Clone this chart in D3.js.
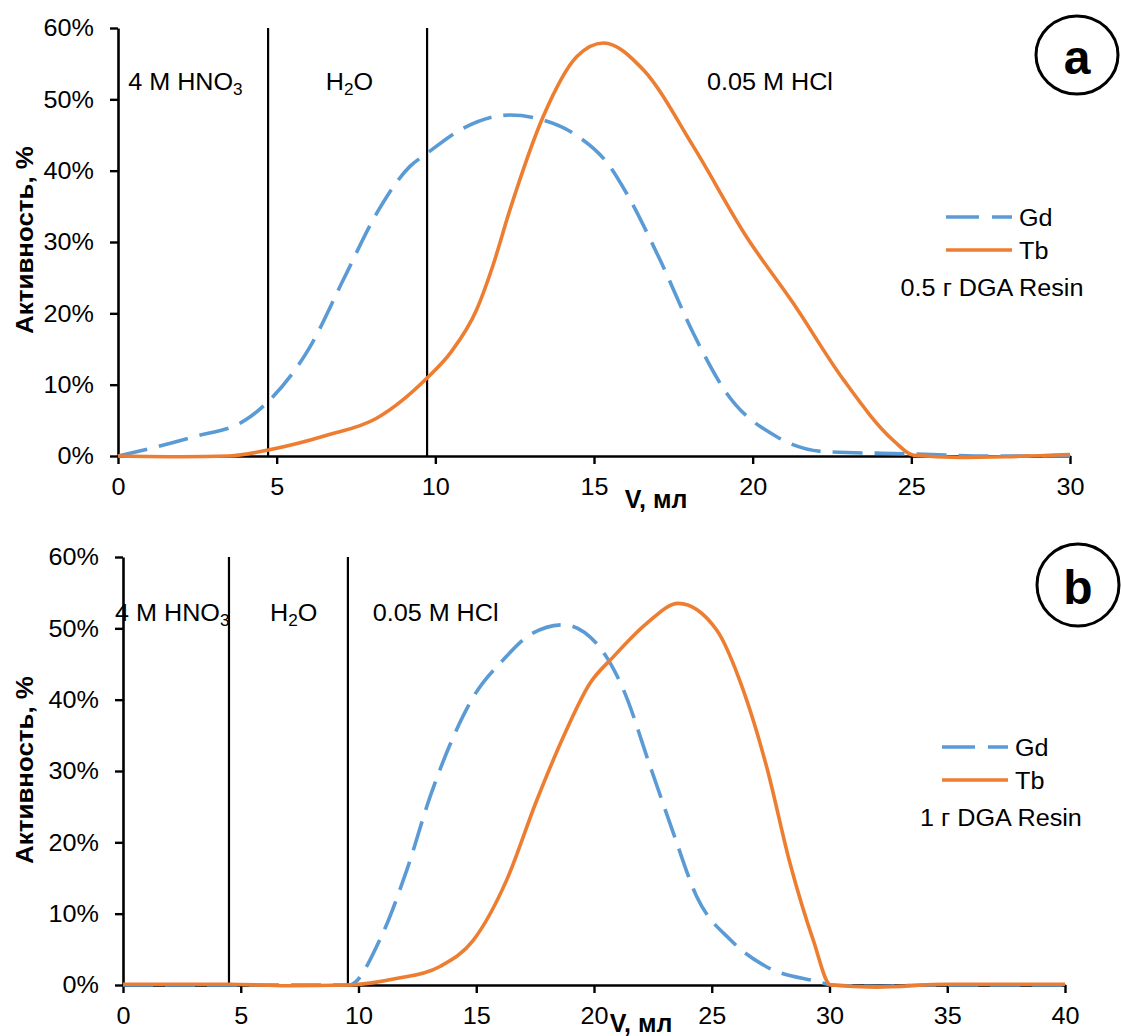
<!DOCTYPE html>
<html>
<head>
<meta charset="utf-8">
<script src="https://cdn.jsdelivr.net/npm/d3@7"></script>
<style>
  body { margin: 0; background: #fff; }
  svg { display: block; }
</style>
</head>
<body>
<svg id="chart" width="1121" height="1036"></svg>
<script>
// Elution profiles, activity in % vs. eluate volume in ml
// Panel a: 0.5 g DGA Resin
const volA_Gd = [0, 2.4, 4, 4.7, 6.05, 7.1, 8.15, 9.2, 9.73, 10.78, 12.35, 13.4, 14.5, 15.5, 16.03, 17.08, 18.13, 19.18, 20.76, 22.3, 25, 27.5, 30];
const actA_Gd = [0, 2.7, 5.0, 7.5, 15.3, 24.7, 34, 40.6, 42.4, 45.7, 47.8, 47.1, 44.8, 40.6, 36.8, 27.5, 17.2, 8.8, 2.7, 0.6, 0.3, 0, 0];
const volA_Tb = [0, 2, 3.5, 4.74, 6.58, 8.15, 9.73, 10.5, 11.3, 11.8, 12.35, 13.4, 14.46, 15.3, 16.56, 18.13, 19.81, 21.28, 22.86, 24.43, 25.07, 26.5, 28, 30];
const actA_Tb = [0, -0.1, 0, 0.84, 2.9, 5.3, 10.9, 14.6, 20.5, 26.5, 34.5, 47.6, 56, 57.9, 54.1, 43.4, 30.7, 21.4, 10.7, 2.2, 0.1, -0.2, -0.1, 0.2];

// Panel b: 1 g DGA Resin
const volB_Gd = [0, 4.5, 9.6, 10.9, 12.05, 13.04, 14.03, 14.88, 16.15, 17.28, 18.7, 20.1, 21.25, 22.38, 23.37, 24.36, 25.8, 27.3, 29.45, 30.1, 32, 34, 40];
const actB_Gd = [0, 0, 0, 6.3, 16.1, 26.4, 34.8, 40.4, 45.6, 49.1, 50.5, 47.9, 41.4, 30.7, 21.3, 12.4, 6.3, 2.6, 0.5, 0, -0.2, 0, 0];
const volB_Tb = [0, 4.5, 7, 9.6, 11.6, 13.46, 14.88, 16.29, 17.57, 18.7, 19.83, 20.82, 22.24, 23.58, 25.2, 26.33, 27.33, 28.32, 29.31, 30.05, 32, 35, 40];
const actB_Tb = [0.1, 0.1, -0.1, 0, 0.9, 2.6, 6.3, 14.7, 25.9, 34.8, 42.3, 46, 50.7, 53.5, 49.8, 41.4, 30.6, 17.1, 6.3, 0, -0.3, 0.1, 0.1];

// Eluent change volumes (ml)
const switchesA = [4.73, 9.74];
const switchesB = [4.5, 9.55];

// Eluent labels: [main text, subscript, trailing text, start volume]
const eluentsA = [["4 M HNO", "3", "", 0.32], ["H", "2", "O", 6.55], ["0.05 M HCl", "", "", 18.56]];
const eluentsB = [["4 M HNO", "3", "", -0.34], ["H", "2", "O", 6.24], ["0.05 M HCl", "", "", 10.6]];

const yTicks = [0, 10, 20, 30, 40, 50, 60];
const xTicksA = [0, 5, 10, 15, 20, 25, 30];
const xTicksB = [0, 5, 10, 15, 20, 25, 30, 35, 40];
const seriesNames = ["Gd", "Tb"];
const resinA = "0.5 г DGA Resin";
const resinB = "1 г DGA Resin";
const yTitle = "Активность, %";
const xTitle = "V, мл";

const FONT = '"Liberation Sans", Arial, Helvetica, sans-serif';
const COL_GD = "#5B9BD5";
const COL_TB = "#ED7D31";
const SX = 1.05;     // slight horizontal text stretch
const FS = 24;       // base font size

const svg = d3.select("#chart");

function stretchText(sel) {
  sel.each(function () {
    d3.select(this).attr("transform", `scale(${SX},1)`);
  });
}

function addText(g, x, y, str, opts = {}) {
  const size = opts.size || FS;
  const wrap = g.append("g").attr("transform", `translate(${x},${y}) scale(${opts.sx || SX},1)`);
  const t = wrap.append("text")
    .attr("font-family", FONT)
    .attr("font-size", size)
    .attr("font-weight", opts.weight || "normal")
    .attr("text-anchor", opts.anchor || "start")
    .attr("dominant-baseline", "central")
    .attr("fill", "#000");
  t.append("tspan").text(str);
  if (opts.sub) {
    t.append("tspan").attr("font-size", size * 0.68).attr("dy", 8).text(opts.sub);
    if (opts.tail) t.append("tspan").attr("dy", -8).text(opts.tail);
  }
  return wrap;
}

function drawPanel(cfg) {
  const g = svg.append("g");
  const x = d3.scaleLinear().domain([cfg.xTicks[0], cfg.xTicks[cfg.xTicks.length - 1]]).range([cfg.left, cfg.right]);
  const y = d3.scaleLinear().domain([0, 60]).range([cfg.bottom, cfg.top]);

  // eluent change markers
  g.selectAll("line.switch").data(cfg.switches).join("line")
    .attr("class", "switch")
    .attr("x1", d => x(d)).attr("x2", d => x(d))
    .attr("y1", y(60)).attr("y2", y(0))
    .attr("stroke", "#000").attr("stroke-width", 2.2);

  // axes
  const yAxis = g.append("g").attr("transform", `translate(${cfg.left},0)`)
    .call(d3.axisLeft(y).tickValues(yTicks).tickFormat(d => d + "%").tickSize(8).tickSizeOuter(0).tickPadding(15));
  const xAxis = g.append("g").attr("transform", `translate(0,${cfg.bottom})`)
    .call(d3.axisBottom(x).tickValues(cfg.xTicks).tickFormat(d3.format("d")).tickSize(8).tickSizeOuter(0).tickPadding(14));
  [yAxis, xAxis].forEach(a => {
    a.select(".domain").attr("stroke", "#000").attr("stroke-width", 2.6);
    a.selectAll(".tick line").attr("stroke", "#000").attr("stroke-width", 2.4);
    a.selectAll(".tick text").attr("font-family", FONT).attr("font-size", FS).attr("fill", "#000");
    stretchText(a.selectAll(".tick text"));
  });

  // curves
  const line = d3.line().x(d => x(d[0])).y(d => y(d[1])).curve(d3.curveMonotoneX);
  const gd = d3.zip(cfg.gdV, cfg.gdA);
  const tb = d3.zip(cfg.tbV, cfg.tbA);
  g.append("path").datum(gd).attr("d", line)
    .attr("fill", "none").attr("stroke", COL_GD).attr("stroke-width", 3.6)
    .attr("stroke-dasharray", "30,12");
  g.append("path").datum(tb).attr("d", line)
    .attr("fill", "none").attr("stroke", COL_TB).attr("stroke-width", 3.6);

  // eluent labels
  cfg.eluents.forEach(e => {
    addText(g, x(e[3]), y(cfg.labelLevel), e[0], { sub: e[1], tail: e[2] });
  });

  // axis titles
  addText(g, cfg.xTitle[0], cfg.xTitle[1], xTitle, { weight: "bold", size: 25, anchor: "middle", sx: 1 });
  g.append("g").attr("transform", `translate(${cfg.yTitleX},${cfg.yTitleY}) rotate(-90) scale(1.08,1)`)
    .append("text")
    .attr("font-family", FONT).attr("font-size", 24).attr("font-weight", "bold")
    .attr("text-anchor", "middle").attr("dominant-baseline", "central").text(yTitle);

  // legend
  const lg = g.append("g");
  const ly = cfg.legendY;
  lg.append("line").attr("x1", cfg.legendX).attr("x2", cfg.legendX + 66).attr("y1", ly).attr("y2", ly)
    .attr("stroke", COL_GD).attr("stroke-width", 3.6).attr("stroke-dasharray", "33,13");
  lg.append("line").attr("x1", cfg.legendX).attr("x2", cfg.legendX + 66).attr("y1", ly + 33).attr("y2", ly + 33)
    .attr("stroke", COL_TB).attr("stroke-width", 3.6);
  addText(lg, cfg.legendX + 73, ly, seriesNames[0]);
  addText(lg, cfg.legendX + 73, ly + 33, seriesNames[1]);
  addText(lg, cfg.resinX, ly + 70, cfg.resin, { anchor: "middle" });

  // panel badge
  g.append("ellipse").attr("cx", cfg.badge[0]).attr("cy", cfg.badge[1]).attr("rx", 41).attr("ry", cfg.badgeRy)
    .attr("fill", "none").attr("stroke", "#000").attr("stroke-width", 3);
  g.append("text").attr("x", cfg.badge[0]).attr("y", cfg.badge[1] + 2)
    .attr("font-family", FONT).attr("font-size", 48).attr("font-weight", "bold")
    .attr("text-anchor", "middle").attr("dominant-baseline", "central").text(cfg.tag);
}

drawPanel({
  tag: "a", left: 118, right: 1070, top: 28, bottom: 456,
  xTicks: xTicksA, switches: switchesA, eluents: eluentsA, labelLevel: 52.5,
  gdV: volA_Gd, gdA: actA_Gd, tbV: volA_Tb, tbA: actA_Tb,
  legendX: 946, legendY: 217, resinX: 992, resin: resinA,
  badge: [1077, 55], badgeRy: 39, xTitle: [656, 499], yTitleX: 24, yTitleY: 240
});

drawPanel({
  tag: "b", left: 123, right: 1065, top: 557, bottom: 985,
  xTicks: xTicksB, switches: switchesB, eluents: eluentsB, labelLevel: 52.2,
  gdV: volB_Gd, gdA: actB_Gd, tbV: volB_Tb, tbA: actB_Tb,
  legendX: 942, legendY: 747, resinX: 1001, resin: resinB,
  badge: [1078, 585], badgeRy: 41, xTitle: [641, 1023], yTitleX: 24, yTitleY: 770
});
</script>
</body>
</html>
